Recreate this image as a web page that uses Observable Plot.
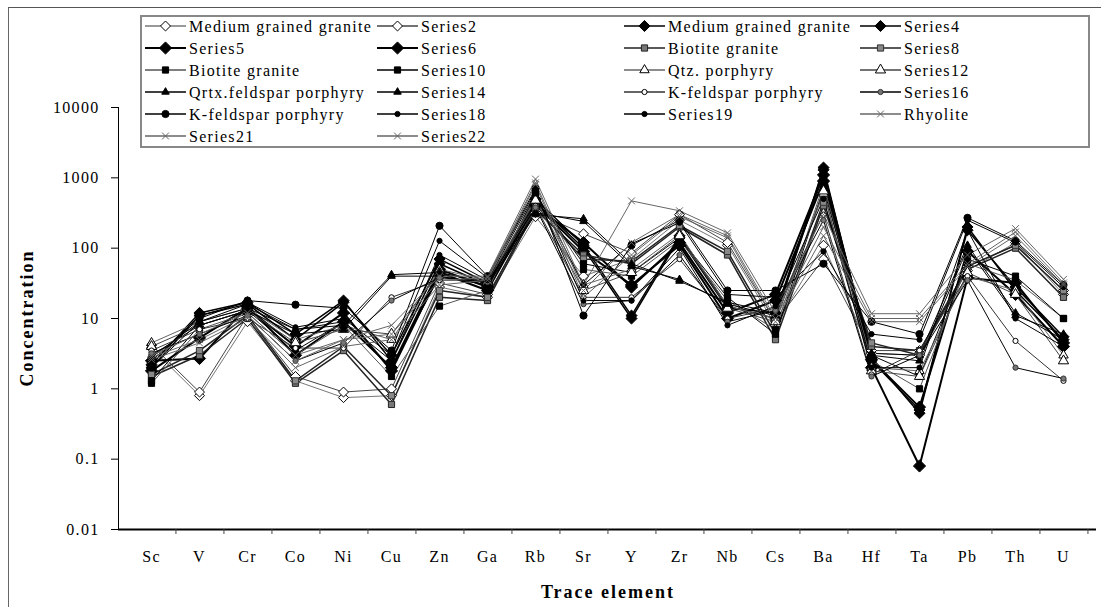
<!DOCTYPE html>
<html>
<head>
<meta charset="utf-8">
<script src="https://cdn.jsdelivr.net/npm/d3@7"></script>
<script src="https://cdn.jsdelivr.net/npm/@observablehq/plot@0.6"></script>
<style>
  html, body { margin: 0; padding: 0; background: #fff; }
  #wrap { position: relative; width: 1101px; height: 607px; overflow: hidden; background: #fff; }
  #frame { position: absolute; left: 8px; top: 7px; width: 1200px; height: 700px;
           border-left: 1px solid #666; border-top: 1px solid #555; box-sizing: border-box; }
  #chart { position: absolute; left: 0; top: 0; }
  #legend { position: absolute; left: 140px; top: 15px; width: 950px; height: 133px;
            border: 2px solid #888; box-sizing: border-box; background: #fff; }
  #legend svg { overflow: visible; }
  .title { position: absolute; font-family: "Liberation Serif", "Times New Roman", serif;
           font-weight: bold; font-size: 18px; letter-spacing: 2px; color: #000; white-space: nowrap; }
  #ytitle { left: 27px; top: 318px; transform: translate(-50%, -50%) rotate(-90deg); }
  #xtitle { left: 608px; top: 592px; transform: translate(-50%, -50%); }
</style>
</head>
<body>
<div id="wrap">
  <div id="frame"></div>
  <div id="chart"></div>
  <div id="legend"></div>
  <div class="title" id="ytitle">Concentration</div>
  <div class="title" id="xtitle">Trace element</div>
</div>
<script>
// ---- data ----
const elements = ["Sc","V","Cr","Co","Ni","Cu","Zn","Ga","Rb","Sr","Y","Zr","Nb","Cs","Ba","Hf","Ta","Pb","Th","U"];
const seriesNames = ["Medium grained granite","Series2","Medium grained granite","Series4",
  "Series5","Series6","Biotite granite","Series8",
  "Biotite granite","Series10","Qtz. porphyry","Series12",
  "Qrtx.feldspar porphyry","Series14","K-feldspar porphyry","Series16",
  "K-feldspar porphyry","Series18","Series19","Rhyolite",
  "Series21","Series22"];
const yTickValues = [0.01, 0.1, 1, 10, 100, 1000, 10000];
const yTickLabels = ["0.01","0.1","1","10","100","1000","10000"];

//          Sc   V    Cr  Co   Ni   Cu   Zn   Ga  Rb   Sr   Y    Zr   Nb   Cs  Ba    Hf   Ta    Pb   Th   U
const s1  = [3.8, 0.8, 9,  1.3, 0.75,0.8, 28,  20, 280, 40,  70,  250, 110, 8,  110,  3.2, 3.0,  48,  120, 22];
const s2  = [4.2, 0.9, 11, 1.5, 0.9, 1.0, 32,  22, 320, 160, 85,  300, 120, 9,  70,   3.5, 3.5,  55,  110, 25];
const s3  = [2.2, 12,  17, 6,   18,  2.5, 60,  30, 500, 110, 11,  150, 15,  10, 1400, 2.5, 0.5,  180, 28,  5.5];
const s4  = [2.0, 11,  16, 5,   17,  3.0, 70,  32, 450, 100, 10,  140, 14,  12, 1300, 2.8, 0.45, 200, 25,  5];
const s5  = [2.5, 2.7, 15, 3,   9,   2.0, 50,  28, 400, 120, 28,  120, 12,  22, 1100, 2.0, 0.08, 38,  32,  4.5];
const s6  = [1.8, 5.3, 14, 4,   12,  1.8, 45,  25, 420, 90,  30,  110, 10,  18, 900,  2.6, 0.55, 90,  22,  4];
const s7  = [1.5, 3,   10, 1.2, 3.5, 0.6, 20,  18, 350, 80,  60,  200, 80,  5,  400,  4,   3.5,  50,  100, 20];
const s8  = [1.6, 3.5, 11, 1.3, 4,   0.8, 25,  20, 380, 70,  65,  210, 90,  6,  450,  4.5, 3.0,  55,  110, 25];
const s9  = [1.2, 7,   12, 3,   8,   1.5, 15,  25, 600, 50,  40,  130, 18,  7,  800,  2.5, 1.0,  60,  35,  10];
const s10 = [1.3, 8,   13, 3.5, 9,   2,   40,  30, 550, 60,  45,  140, 20,  6,  700,  3,   1.5,  70,  40,  10];
const s11 = [4.5, 9,   14, 5,   8,   5,   50,  35, 500, 30,  50,  160, 15,  10, 600,  2,   1.8,  40,  25,  3];
const s12 = [4.0, 8,   13, 4.5, 7,   6,   45,  33, 480, 25,  45,  150, 14,  9,  650,  1.8, 1.5,  45,  22,  2.5];
const s13 = [3,   8,   13, 6,   7,   40,  40,  30, 300, 262, 60,  34,  17,  12, 1200, 3,   2.5,  100, 11,  6];
const s14 = [2.8, 9,   14, 7,   8,   42,  45,  32, 320, 240, 55,  36,  16,  11, 1100, 3.2, 3,    110, 12,  5];
const s15 = [3.5, 7,   10, 3.8, 3.8, 20,  35,  35, 400, 20,  20,  70,  10,  14, 300,  1.6, 3.5,  40,  4.8, 1.3];
const s16 = [3.2, 6,   11, 2.5, 4.5, 18,  38,  33, 380, 16,  18,  80,  9,   13, 250,  1.5, 3,    35,  2,   1.4];
const s17 = [2.5, 10,  18, 15.7,14,  3.5, 208, 40, 700, 11,  110, 250, 25,  25, 60,   9,   6,    270, 127, 30];
const s18 = [2.3, 11,  17, 7.5, 10,  3,   127, 38, 650, 30,  116, 230, 22,  20, 90,   6,   5,    250, 120, 28];
const s19 = [2.0, 9,   16, 7,   9,   2.5, 80,  35, 600, 18,  18,  100, 8,   15, 500,  2,   2,    180, 10,  4];
const s20 = [3,   6,   12, 3,   5,   8,   40,  40, 960, 30,  470, 340, 165, 12, 300,  11.7,11.7, 80,  190, 36];
const s21 = [2.8, 5,   11, 2.5, 5,   6,   35,  38, 850, 25,  120, 300, 150, 10, 200,  10,  10,   60,  170, 32];
const s22 = [2.6, 4.5, 10, 2,   4,   5,   30,  35, 800, 20,  80,  280, 140, 9,   150, 9,   9,    55,  150, 30];
const seriesValues = [s1,s2,s3,s4,s5,s6,s7,s8,s9,s10,s11,s12,s13,s14,s15,s16,s17,s18,s19,s20,s21,s22];

// ---- styles (separate from data) ----
const styles = [
  {symbol:"diamond2", r:4.5, fill:"#fff", stroke:"#000", line:"#777", lw:1},
  {symbol:"diamond2", r:4.5, fill:"#fff", stroke:"#000", line:"#444", lw:1},
  {symbol:"diamond2", r:5,   fill:"#000", stroke:"#000", line:"#000", lw:1.5},
  {symbol:"diamond2", r:5,   fill:"#000", stroke:"#000", line:"#000", lw:1.5},
  {symbol:"diamond2", r:5.5, fill:"#000", stroke:"#000", line:"#000", lw:2},
  {symbol:"diamond2", r:5.5, fill:"#000", stroke:"#000", line:"#000", lw:2},
  {symbol:"square",   r:3.5, fill:"#777", stroke:"#222", line:"#222", lw:1.5},
  {symbol:"square",   r:3.5, fill:"#888", stroke:"#333", line:"#222", lw:1.5},
  {symbol:"square",   r:3.5, fill:"#000", stroke:"#000", line:"#555", lw:1},
  {symbol:"square",   r:3.5, fill:"#000", stroke:"#000", line:"#000", lw:1},
  {symbol:"triangle", r:3.5, fill:"#fff", stroke:"#000", line:"#666", lw:1},
  {symbol:"triangle", r:3.8, fill:"#fff", stroke:"#000", line:"#444", lw:1},
  {symbol:"triangle", r:2.8, fill:"#000", stroke:"#000", line:"#000", lw:1},
  {symbol:"triangle", r:2.8, fill:"#000", stroke:"#000", line:"#000", lw:1},
  {symbol:"circle",   r:2.6, fill:"#fff", stroke:"#000", line:"#333", lw:1},
  {symbol:"circle",   r:2.6, fill:"#777", stroke:"#333", line:"#000", lw:1},
  {symbol:"circle",   r:3.6, fill:"#000", stroke:"#000", line:"#000", lw:1},
  {symbol:"circle",   r:2.6, fill:"#000", stroke:"#000", line:"#000", lw:1},
  {symbol:"circle",   r:2.6, fill:"#000", stroke:"#000", line:"#000", lw:1},
  {symbol:"times",    r:3.2, fill:"none", stroke:"#666", line:"#666", lw:1},
  {symbol:"times",    r:3.2, fill:"none", stroke:"#666", line:"#666", lw:1},
  {symbol:"times",    r:3.2, fill:"none", stroke:"#666", line:"#666", lw:1}
];

const W = 1101, H = 607;
const mL = 118, mR = 5, mT = 107, mB = 78;
const step = (W - mL - mR) / elements.length;
const fontFam = '"Liberation Serif", "Times New Roman", serif';

const marks = [];
seriesValues.forEach((vals, i) => {
  const rows = vals.map((v, j) => ({element: elements[j], value: v}));
  const st = styles[i];
  marks.push(Plot.line(rows, {x: "element", y: "value", stroke: st.line, strokeWidth: st.lw}));
});
seriesValues.forEach((vals, i) => {
  const rows = vals.map((v, j) => ({element: elements[j], value: v}));
  const st = styles[i];
  marks.push(Plot.dot(rows, {x: "element", y: "value", symbol: st.symbol, r: st.r,
    fill: st.fill, stroke: st.stroke, strokeWidth: 1}));
});
// x-axis baseline and boundary ticks
marks.push(Plot.ruleY([yTickValues[0]], {stroke: "#000", strokeWidth: 2}));
marks.push(Plot.ruleX(elements, {x: d => d, dx: step / 2, stroke: "#444", strokeWidth: 1,
  insetTop: H - mT - mB, insetBottom: -5}));

const chart = Plot.plot({
  width: W, height: H,
  marginLeft: mL, marginRight: mR, marginTop: mT, marginBottom: mB,
  style: {fontFamily: fontFam, fontSize: "16px", letterSpacing: "1.3px", color: "#000", background: "transparent"},
  x: {type: "point", domain: elements, padding: 0.5, label: null, tickSize: 0, tickPadding: 21},
  y: {type: "log", domain: [0.01, 10000], ticks: yTickValues,
      tickFormat: d => yTickLabels[yTickValues.indexOf(d)], tickSize: 7, tickPadding: 12,
      label: null, line: true},
  marks
});
document.getElementById("chart").appendChild(chart);

// ---- legend ----
const colX = [3, 235, 482, 718];
const rowY = [9, 31, 53, 75, 97, 119];
const symMap = {diamond2: d3.symbolDiamond2, square: d3.symbolSquare, triangle: d3.symbolTriangle,
                circle: d3.symbolCircle, times: d3.symbolTimes};
const lg = d3.select("#legend").append("svg").attr("width", 946).attr("height", 129)
  .style("position", "absolute").style("left", 0).style("top", 0);
seriesNames.forEach((name, i) => {
  const c = i % 4, r = Math.floor(i / 4);
  const st = styles[i];
  const g = lg.append("g").attr("transform", `translate(${colX[c]},${rowY[r]})`);
  g.append("line").attr("x1", 0).attr("x2", 41).attr("y1", 0).attr("y2", 0)
    .attr("stroke", st.line).attr("stroke-width", Math.max(st.lw, 1.5));
  g.append("path").attr("transform", "translate(20.5,0)")
    .attr("d", d3.symbol(symMap[st.symbol], st.r * st.r * Math.PI)())
    .attr("fill", st.fill).attr("stroke", st.stroke).attr("stroke-width", 1);
  g.append("text").attr("x", 44).attr("y", 0).attr("dy", "0.35em")
    .style("font-family", fontFam).style("font-size", "16px").style("letter-spacing", "1.3px")
    .text(name);
});
</script>
</body>
</html>
